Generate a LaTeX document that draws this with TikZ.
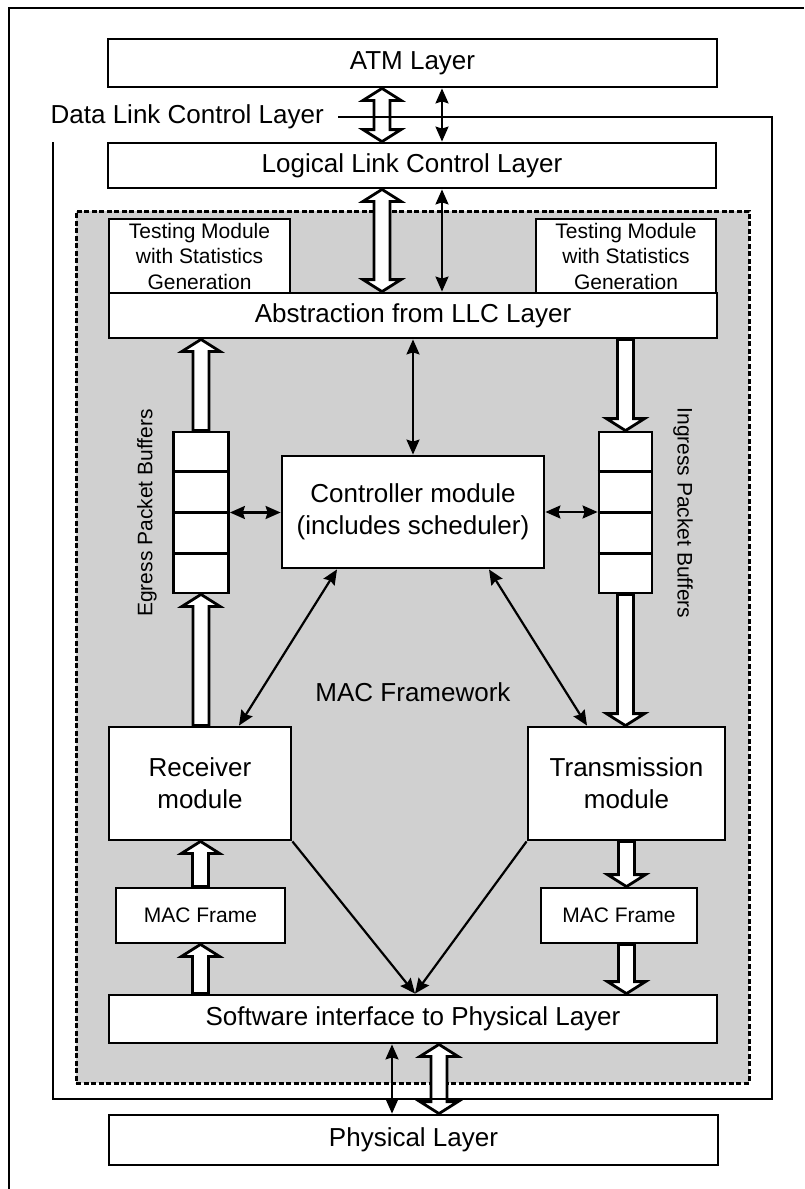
\documentclass[tikz,border=0pt]{standalone}
\usepackage{fontspec}
\setmainfont{Liberation Sans}
\usetikzlibrary{arrows.meta,calc}

\begin{document}
\begin{tikzpicture}[x=1pt,y=-1pt,
  box/.style={draw,fill=white,line width=2.8pt,inner sep=0pt,align=center,
              font=\fontsize{26}{32}\selectfont},
  smallbox/.style={box,font=\fontsize{21}{25.5}\selectfont},
  plainlabel/.style={inner sep=0pt,font=\fontsize{26}{32}\selectfont},
  sidelabel/.style={inner sep=0pt,font=\fontsize{21}{25}\selectfont},
  buffer/.style={draw,fill=white,line width=2.8pt,inner sep=0pt,
                 minimum height=161pt},
  region/.style={draw,fill=gray!37,line width=3pt,dash pattern=on 5pt off 2.5pt,
                 inner sep=0pt},
  myhead/.tip={Stealth[length=15pt,width=13pt,inset=2pt]},
  link/.style={line width=2.2pt,myhead-myhead},
  feed/.style={line width=2.2pt,-myhead},
  framing/.style={line width=2.2pt},
  % block arrow, head at the target end
  fatone/.style={draw,fill=white,line width=2.8pt,line join=miter,
    to path={let \p1=(\tikztostart),\p2=(\tikztotarget),
                 \n1={12*sign(\y2-(\y1))} in
      (\x2-8pt,\y1) -- (\x2-8pt,{\y2-(\n1)*1pt}) -- (\x2-19pt,{\y2-(\n1)*1pt})
      -- (\x2,\y2) -- (\x2+19pt,{\y2-(\n1)*1pt}) -- (\x2+8pt,{\y2-(\n1)*1pt})
      -- (\x2+8pt,\y1) -- cycle}},
  % block arrow, heads at both ends
  fattwo/.style={draw,fill=white,line width=2.8pt,line join=miter,
    to path={let \p1=(\tikztostart),\p2=(\tikztotarget),
                 \n1={12*sign(\y2-(\y1))} in
      (\x2,\y1) -- (\x2-19pt,{\y1+(\n1)*1pt}) -- (\x2-8pt,{\y1+(\n1)*1pt})
      -- (\x2-8pt,{\y2-(\n1)*1pt}) -- (\x2-19pt,{\y2-(\n1)*1pt}) -- (\x2,\y2)
      -- (\x2+19pt,{\y2-(\n1)*1pt}) -- (\x2+8pt,{\y2-(\n1)*1pt})
      -- (\x2+8pt,{\y1+(\n1)*1pt}) -- (\x2+19pt,{\y1+(\n1)*1pt}) -- cycle}},
]
\useasboundingbox (0,0) rectangle (804,1189);

% page frame
\draw[framing] (9,1189) -- (9,8) -- (804,8);

% MAC framework area
\node[region,minimum width=673pt,minimum height=872pt] (macarea) at (412.5,647) {};

% layer boxes
\node[box,minimum width=609pt,minimum height=48pt] (atm) at (412.5,63) {ATM Layer};
\node[plainlabel,anchor=east] (dlc) at (324,117) {Data Link Control Layer};
\node[box,minimum width=608pt,minimum height=45pt] (llc) at (412,165.5) {Logical Link Control Layer};

\node[smallbox,minimum width=181pt,minimum height=74pt] (testl) at (199.5,256)
  {Testing Module\\with Statistics\\Generation};
\node[smallbox,minimum width=180pt,minimum height=74pt] (testr) at (626,256)
  {Testing Module\\with Statistics\\Generation};
\node[box,minimum width=608pt,minimum height=45pt] (abs) at (413,315.5) {Abstraction from LLC Layer};

% packet buffers
\node[buffer,minimum width=55pt] (egress) at (201,512.5) {};
\node[buffer,minimum width=53pt] (ingress) at (625.5,512.5) {};
\foreach \b in {egress,ingress}
  \foreach \k in {0.25,0.5,0.75}
    \draw[line width=2.8pt] ($(\b.north west)!\k!(\b.south west)$) -- ($(\b.north east)!\k!(\b.south east)$);
\node[sidelabel,rotate=90] (egl) at (147,513) {Egress Packet Buffers};
\node[sidelabel,rotate=-90] (ingl) at (683,513) {Ingress Packet Buffers};

\node[box,minimum width=262pt,minimum height=112pt] (ctrl) at (413,512)
  {Controller module\\(includes scheduler)};
\node[plainlabel] (macfw) at (413,692) {MAC Framework};

\node[box,minimum width=182pt,minimum height=113pt] (rx) at (200,783.5) {Receiver\\module};
\node[box,minimum width=197pt,minimum height=113pt] (tx) at (626.5,783.5) {Transmission\\module};
\node[smallbox,minimum width=169pt,minimum height=55pt] (macl) at (200.5,915.5) {MAC Frame};
\node[smallbox,minimum width=156pt,minimum height=55pt] (macr) at (619,915.5) {MAC Frame};

\node[box,minimum width=608pt,minimum height=48pt] (swi) at (413,1019) {Software interface to Physical Layer};
\node[box,minimum width=609pt,minimum height=50pt] (phy) at (413.5,1140) {Physical Layer};

% ATM <-> LLC
\draw[fattwo] ([xshift=-30.5pt]atm.south) to ([xshift=-30pt]llc.north);
\draw[link] ([xshift=29.5pt]atm.south) -- ([xshift=30pt]llc.north);
% LLC <-> abstraction
\draw[fattwo] ([xshift=-30pt]llc.south) to ([xshift=-31pt]abs.north);
\draw[link] ([xshift=30pt]llc.south) -- ([xshift=29pt]abs.north);

% upper data paths
\draw[fatone] (egress.north) to (egress.north |- abs.south);
\draw[fatone] (ingress.north |- abs.south) to (ingress.north);
\draw[link] (abs.south) -- (ctrl.north);
\draw[link] (egress.east) -- (egress.east -| ctrl.west);
\draw[link] (ctrl.east) -- (ctrl.east -| ingress.west);
\draw[link] ([xshift=-76pt]ctrl.south) -- ([xshift=39pt]rx.north);
\draw[link] ([xshift=76pt]ctrl.south) -- ([xshift=-39.5pt]tx.north);

% buffers <-> modules
\draw[fatone] (egress.south |- rx.north) to (egress.south);
\draw[fatone] (ingress.south) to (ingress.south |- tx.north);

% modules <-> MAC frames <-> software interface
\draw[fatone] (macl.north) to (macl.north |- rx.south);
\draw[fatone] (tx.south) to (tx.south |- macr.north);
\draw[fatone] (macl.south |- swi.north) to (macl.south);
\draw[fatone] (tx.south |- macr.south) to (tx.south |- swi.north);
\draw[feed] (rx.south east) -- ([xshift=2pt]swi.north);
\draw[feed] (tx.south west) -- ([xshift=2pt]swi.north);

% software interface <-> physical layer
\draw[link] ([xshift=-21pt]swi.south) -- ([xshift=-21.5pt]phy.north);
\draw[fattwo] ([xshift=26pt]swi.south) to ([xshift=25.5pt]phy.north);

% data link control layer boundary
\draw[framing] ([xshift=14pt]dlc.east) -- (772,117) -- (772,1099) -- (53,1099) -- (53,142);
\end{tikzpicture}
\end{document}
